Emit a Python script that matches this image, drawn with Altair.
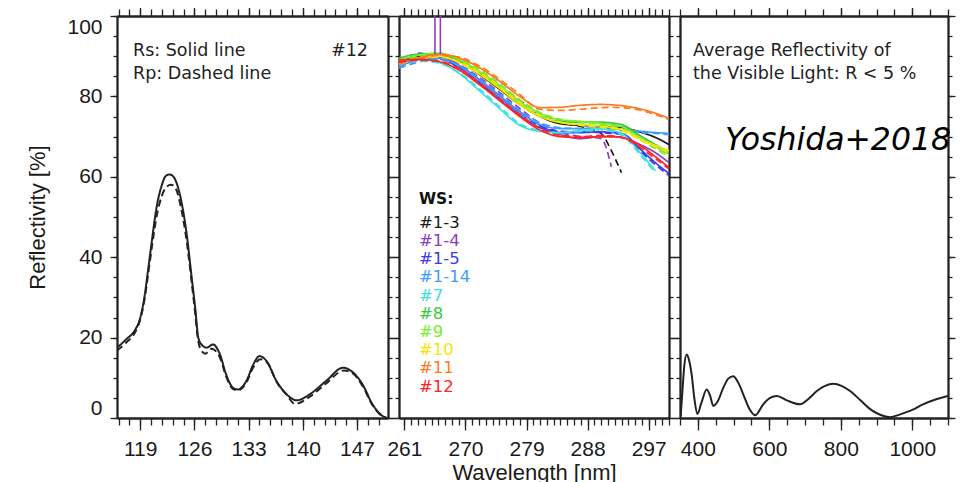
import altair as alt
import pandas as pd

# ---------------- Panel 1: sample #12, far-UV (Rs solid, Rp dashed) ----------------
P1_WL_RS = [116.0, 116.6, 117.2, 118.3, 119.0, 119.6, 120.0, 120.5, 121.1, 121.8, 122.3, 122.8, 123.3,
            124.3, 125.0, 125.6, 126.1, 126.5, 126.9, 127.6, 128.4, 129.3, 130.1, 131.0, 131.6, 132.7,
            133.6, 134.4, 135.3, 136.6, 137.9, 139.2, 140.9, 143.0, 145.2, 146.5, 147.7, 149.0, 150.3, 150.9]
P1_RS = [17.5, 18.5, 19.6, 21.8, 24.9, 30.8, 36.6, 44.0, 52.3, 58.0, 60.2, 60.6, 60.0,
         54.0, 45.7, 35.7, 27.4, 20.0, 18.3, 17.5, 18.3, 15.8, 10.8, 7.5, 7.1, 9.2,
         13.3, 15.4, 14.2, 9.2, 5.9, 4.4, 5.9, 9.2, 12.5, 11.3, 8.4, 3.4, 0.5, 0.0]
P1_WL_RP = [116.0, 117.2, 118.3, 119.0, 119.6, 120.0, 120.5, 121.1, 121.8, 122.4, 123.0, 123.6, 124.3,
            125.0, 125.6, 126.1, 126.5, 127.0, 127.4, 128.2, 129.3, 130.1, 131.0, 131.7, 132.7, 133.6,
            134.5, 135.4, 136.6, 137.9, 139.0, 140.9, 143.0, 145.3, 146.5, 147.7, 149.0, 150.3, 150.9]
P1_RP = [16.8, 18.8, 21.2, 24.5, 30.0, 35.5, 42.5, 50.0, 55.3, 57.5, 58.0, 57.0, 52.0,
         44.0, 34.5, 26.0, 19.0, 16.5, 16.0, 17.2, 15.0, 10.3, 7.2, 6.9, 8.8, 12.6,
         14.6, 13.8, 9.0, 5.8, 3.5, 5.3, 8.6, 11.8, 11.0, 8.0, 3.2, 0.4, 0.0]

# ---------------- Panel 2: all witness samples, near-UV ----------------
P2_WL = [260.2, 263, 266, 269, 272, 275, 278, 281, 284, 287, 290, 291.5, 293, 296, 298, 300]
SERIES = ["#1-3", "#1-4", "#1-5", "#1-14", "#7", "#8", "#9", "#10", "#11", "#12"]
COLORS = ["#1a1a1a", "#8a3fc0", "#3a3af0", "#3f9cff", "#3ee0e0",
          "#3cc83c", "#78ee30", "#f4e600", "#ff7a1e", "#ff2424"]
N = None
RS_1_3 = [89.0, 90.0, 90.5, 88.8, 85.5, 81.8, 78.0, 75.0, 73.2, 72.8, 72.6, 72.4, 72.2, 71.0, 69.8, 68.0]
RP_1_3 = [88.5, 89.5, 90.2, 89.0, 86.0, 82.5, 79.0, 75.5, 73.5, 72.5, 70.8, 66.5, 61.0, N, N, N]
RS_1_4 = [88.0, 89.5, 90.0, 87.8, 84.2, 80.2, 76.2, 72.8, 70.5, 69.5, 70.0, 70.0, 69.8, 67.8, 66.0, 63.5]
RP_1_4 = [87.5, 89.0, 89.8, 88.0, 84.8, 81.0, 77.0, 73.3, 71.0, 70.0, 69.5, 62.5, N, N, N, N]
RS_1_5 = [N, 90.8, 89.8, 87.2, 83.4, 79.2, 75.2, 72.2, 71.0, 71.0, 71.2, 71.0, 70.8, 66.5, 63.5, 60.8]
RP_1_5 = [N, 90.3, 89.5, 87.5, 83.8, 79.8, 75.8, 72.6, 71.3, 71.2, 71.0, 70.8, 70.5, 66.0, 63.0, 60.3]
RS_1_14 = [87.5, 89.0, 89.5, 87.6, 84.0, 80.0, 76.0, 73.0, 72.0, 72.0, 72.2, 72.0, 71.8, 71.3, 71.0, 70.8]
RP_1_14 = [87.0, 88.5, 89.2, 87.8, 84.5, 80.6, 76.6, 73.4, 72.2, 72.0, 72.0, 71.8, 71.5, 71.0, 70.8, 70.5]
RS_7 = [88.5, 89.2, 88.5, 85.8, 81.5, 77.0, 72.8, 71.3, 71.0, 71.5, 72.0, 71.5, 70.8, 65.5, 61.5, N]
RP_7 = [88.0, 88.8, 88.3, 86.0, 82.0, 77.5, 73.2, 71.5, 71.0, 71.3, 71.7, 71.3, 70.5, 65.0, 61.0, N]
RS_8 = [89.5, 90.5, 90.6, 88.8, 85.8, 82.2, 78.2, 75.2, 73.8, 73.6, 73.6, 73.4, 73.0, 70.0, 68.0, 66.0]
RP_8 = [89.0, 90.2, 90.5, 89.0, 86.2, 82.7, 78.7, 75.5, 74.0, 73.5, 73.3, 73.0, 72.6, 69.5, 67.6, 65.5]
RS_9 = [89.0, 90.2, 90.8, 89.2, 86.3, 82.8, 78.8, 75.8, 74.2, 73.8, 73.3, 73.0, 72.5, 69.5, 67.5, 65.5]
RP_9 = [88.6, 89.8, 90.5, 89.4, 86.7, 83.2, 79.2, 76.0, 74.3, 73.6, 73.0, 72.6, 72.0, 69.0, 67.0, 65.0]
RS_10 = [88.5, 89.5, 90.0, 88.5, 85.6, 82.0, 78.0, 75.0, 73.5, 73.0, 72.6, 72.3, 71.8, 69.2, 67.8, 66.5]
RP_10 = [88.0, 89.2, 89.8, 88.7, 86.0, 82.5, 78.5, 75.3, 73.6, 72.8, 72.3, 72.0, 71.5, 69.0, 67.5, 66.0]
RS_11 = [88.5, 89.5, 90.5, 89.6, 87.2, 83.8, 80.0, 77.2, 77.3, 77.8, 78.0, 77.9, 77.7, 76.8, 75.8, 74.5]
RP_11 = [88.0, 89.2, 90.2, 89.8, 87.6, 84.3, 80.5, 76.8, 76.5, 76.8, 77.2, 77.3, 77.2, 76.5, 75.5, 74.2]
RS_12 = [89.0, 89.2, 88.7, 86.6, 83.0, 79.0, 75.0, 71.6, 70.0, 69.8, 70.0, 70.0, 69.8, 67.5, 65.0, 62.3]
RP_12 = [88.5, 89.0, 88.8, 87.0, 83.5, 79.5, 75.5, 72.0, 70.3, 70.0, 70.3, 70.2, 69.8, 67.0, 64.5, 62.0]
RS_ALL = [RS_1_3, RS_1_4, RS_1_5, RS_1_14, RS_7, RS_8, RS_9, RS_10, RS_11, RS_12]
RP_ALL = [RP_1_3, RP_1_4, RP_1_5, RP_1_14, RP_7, RP_8, RP_9, RP_10, RP_11, RP_12]
SPIKE_WL = [265.5, 266.3]
SPIKE_LO = [90.5, 90.5]
SPIKE_HI = [100.0, 100.0]

# ---------------- Panel 3: average reflectivity, visible ----------------
P3_WL = [352, 357, 362, 368.7, 375, 382.7, 390, 398.4, 410, 424.6, 434, 443.3, 456, 471, 485, 499, 513, 527,
         544, 560, 583, 602, 621, 649, 686, 710, 733, 756, 779, 802, 826, 855, 882, 910, 938, 966, 1000,
         1030, 1065, 1100]
P3_R = [0.5, 7.0, 13.0, 15.8, 14.5, 10.8, 5.0, 1.0, 3.8, 7.1, 5.6, 3.0, 4.2, 7.5, 9.8, 10.4, 8.8, 5.9,
        2.3, 0.7, 3.4, 5.0, 5.5, 4.4, 3.4, 4.8, 6.7, 8.0, 8.5, 8.0, 6.7, 4.4, 2.2, 0.8, 0.2, 0.9, 2.0,
        3.4, 4.6, 5.5]

# ---------------- ticks and texts ----------------
Y_MAJOR = [0, 20, 40, 60, 80, 100]
Y_MINOR = [v * 5 for v in range(21)]
P1_MAJOR = [119, 126, 133, 140, 147]
P1_MINOR = [round(116.2 + 1.4 * i, 2) for i in range(25)]
P2_MAJOR = [261, 270, 279, 288, 297]
P2_MINOR = list(range(261, 301))
P3_MAJOR = [400, 600, 800, 1000]
P3_MINOR = list(range(350, 1101, 50))
P1_NOTES = ["Rs: Solid line", "Rp: Dashed line"]
P1_TAG = "#12"
P3_NOTES = ["Average Reflectivity of", "the Visible Light: R < 5 %"]
LEGEND_TITLE = "WS:"
CREDIT = "Yoshida+2018"
X_TITLE = "Wavelength [nm]"
Y_TITLE = "Reflectivity [%]"

INK = "#222222"
LABEL_FONT = "Liberation Sans"
NOTE_FONT = "DejaVu Sans"

# ---------------- tables ----------------
df1 = pd.DataFrame({"wl": P1_WL_RS + P1_WL_RP, "R": P1_RS + P1_RP,
                    "pol": ["Rs"] * len(P1_RS) + ["Rp"] * len(P1_RP)})
rows = []
for name, rs, rp in zip(SERIES, RS_ALL, RP_ALL):
    for w, v in zip(P2_WL, rs):
        if v is not None:
            rows.append({"wl": w, "R": v, "series": name, "pol": "Rs"})
    for w, v in zip(P2_WL, rp):
        if v is not None:
            rows.append({"wl": w, "R": v, "series": name, "pol": "Rp"})
df2 = pd.DataFrame(rows)
spikes = pd.DataFrame({"wl": SPIKE_WL, "lo": SPIKE_LO, "hi": SPIKE_HI})
df3 = pd.DataFrame({"wl": P3_WL, "R": P3_R})

DASH = alt.Scale(domain=["Rs", "Rp"], range=[[1, 0], [7, 4]])


def axis(orient, values, size, labels=False, **kw):
    opts = dict(orient=orient, values=values, tickSize=size, labels=labels, grid=False, format="d",
                domainColor=INK, domainWidth=1.8, tickColor=INK, tickWidth=1.3,
                labelFont=LABEL_FONT, labelFontSize=21, labelColor="#1a1a1a",
                titleFont=LABEL_FONT, titleFontSize=22, titleFontWeight="normal", titleColor="#1a1a1a")
    opts.update(kw)
    return alt.Axis(**opts)


def frame(df, xs, ys, xmaj, xmin, ylabels, xtitle=None, ytitle=None):
    def carrier(xa, ya, xt=None, yt=None):
        return alt.Chart(df).mark_line(strokeOpacity=0).encode(
            x=alt.X("wl:Q", scale=xs, axis=xa, title=xt),
            y=alt.Y("R:Q", scale=ys, axis=ya, title=yt))
    c1 = carrier(axis("bottom", xmaj, 12, True, labelPadding=8, titlePadding=3),
                 axis("left", Y_MAJOR, 7, ylabels, labelFlush=True, labelPadding=8, titlePadding=17),
                 xtitle, ytitle)
    c2 = carrier(axis("bottom", xmin, 7), axis("left", Y_MINOR, 4))
    c3 = carrier(axis("top", xmaj, 12), axis("right", Y_MAJOR, 7))
    c4 = carrier(axis("top", xmin, 7), axis("right", Y_MINOR, 4))
    return [c1, c2, c3, c4]


def note(text, x, y, size=16, color=INK, align="left", **kw):
    return alt.Chart(pd.DataFrame({"t": [text]})).mark_text(
        align=align, baseline="middle", font=NOTE_FONT, fontSize=size, color=color, **kw
    ).encode(text="t:N", x=alt.value(x), y=alt.value(y))


YS = alt.Scale(domain=[0, 100], nice=False, zero=False)

# ----- panel 1 -----
xs1 = alt.Scale(domain=[116, 151], nice=False, zero=False)
lines1 = alt.Chart(df1).mark_line(color=INK, strokeWidth=2, interpolate="monotone", clip=True).encode(
    x=alt.X("wl:Q", scale=xs1, axis=None),
    y=alt.Y("R:Q", scale=YS, axis=None),
    strokeDash=alt.StrokeDash("pol:N", scale=DASH, legend=None))
p1 = alt.layer(
    *frame(df1, xs1, YS, P1_MAJOR, P1_MINOR, True, None, Y_TITLE),
    lines1,
    note(P1_NOTES[0], 16, 35, size=17.5),
    note(P1_NOTES[1], 16, 58, size=17.5),
    note(P1_TAG, 251, 35, size=17.5, align="right"),
).resolve_axis(x="independent", y="independent").properties(width=271, height=402)

# ----- panel 2 -----
xs2 = alt.Scale(domain=[260.2, 300], nice=False, zero=False)
lines2 = alt.Chart(df2).mark_line(strokeWidth=1.7, interpolate="monotone", clip=True).encode(
    x=alt.X("wl:Q", scale=xs2, axis=None),
    y=alt.Y("R:Q", scale=YS, axis=None),
    color=alt.Color("series:N", scale=alt.Scale(domain=SERIES, range=COLORS), legend=None),
    strokeDash=alt.StrokeDash("pol:N", scale=DASH, legend=None))
spike = alt.Chart(spikes).mark_rule(color=COLORS[1], strokeWidth=1.6, clip=True).encode(
    x=alt.X("wl:Q", scale=xs2, axis=None),
    y=alt.Y("lo:Q", scale=YS, axis=None),
    y2="hi:Q")
legend = [note(LEGEND_TITLE, 20, 183, size=15.5, fontWeight="bold", color="#111111")]
for i, (name, col) in enumerate(zip(SERIES, COLORS)):
    legend.append(note(name, 20, 206.7 + 18.2 * i, size=16.5, color=col))
p2 = alt.layer(
    *frame(df2, xs2, YS, P2_MAJOR, P2_MINOR, False, X_TITLE, None),
    lines2, spike, *legend,
).resolve_axis(x="independent", y="independent").properties(width=270, height=402)

# ----- panel 3 -----
xs3 = alt.Scale(domain=[350, 1100], nice=False, zero=False)
lines3 = alt.Chart(df3).mark_line(color=INK, strokeWidth=2, interpolate="monotone", clip=True).encode(
    x=alt.X("wl:Q", scale=xs3, axis=None),
    y=alt.Y("R:Q", scale=YS, axis=None))
p3 = alt.layer(
    *frame(df3, xs3, YS, P3_MAJOR, P3_MINOR, False, None, None),
    lines3,
    note(P3_NOTES[0], 13, 35, size=17.5),
    note(P3_NOTES[1], 13, 58, size=17.5),
    note(CREDIT, 45, 125, size=31.5, color="#000000", fontStyle="italic"),
).resolve_axis(x="independent", y="independent").properties(width=268, height=402)

chart = alt.hconcat(p1, p2, p3, spacing=11, bounds="flush").properties(
    padding={"left": 18, "top": -5, "right": 0, "bottom": 0}
).configure_view(stroke=None)

chart.save("out.html", embed_options={"renderer": "svg", "actions": False})
